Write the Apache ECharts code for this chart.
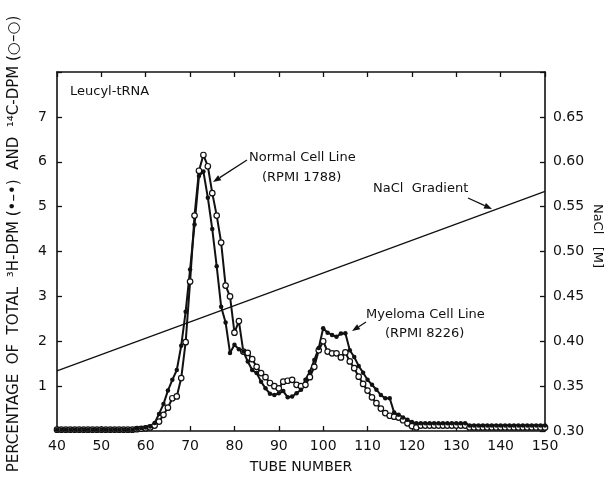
<!DOCTYPE html>
<html>
<head>
<meta charset="utf-8">
<script src="https://cdn.jsdelivr.net/npm/echarts@6/dist/echarts.min.js"></script>
<style>
  html, body { margin: 0; padding: 0; background: #fff; }
  #chart { width: 611px; height: 489px; }
</style>
</head>
<body>
<div id="chart"></div>
<script>
// tube numbers 40..150, one value per tube
var firstTube = 40
var xTicks = [40, 50, 60, 70, 80, 90, 100, 110, 120, 130, 140, 150]
// 14C-DPM, open circles
var c14Dpm = [
  0.03, 0.03, 0.03, 0.03, 0.03, 0.03, 0.03, 0.03, 0.03, 0.03,
  0.03, 0.03, 0.03, 0.03, 0.03, 0.03, 0.03, 0.03,
  0.04, 0.05, 0.06, 0.08, 0.12, 0.21, 0.36, 0.52, 0.73, 0.77,
  1.18, 1.98, 3.33, 4.8, 5.8, 6.15, 5.9, 5.3, 4.8, 4.2,
  3.24, 3.0, 2.19, 2.45, 1.77, 1.74, 1.6, 1.43, 1.29, 1.2,
  1.07, 1.0, 0.95, 1.1, 1.12, 1.14, 1.03, 1.0, 1.03, 1.2,
  1.43, 1.8, 2.0, 1.77, 1.73, 1.73, 1.64, 1.75, 1.55, 1.4,
  1.21, 1.05, 0.9, 0.75, 0.62, 0.5, 0.4, 0.34, 0.32, 0.3,
  0.24, 0.17, 0.11, 0.08,
  0.12, 0.12, 0.12, 0.12, 0.12, 0.12, 0.12, 0.12, 0.12, 0.12, 0.12,
  0.08, 0.08, 0.08, 0.08, 0.08, 0.08, 0.08, 0.08, 0.08, 0.08,
  0.08, 0.08, 0.08, 0.08, 0.08, 0.08, 0.08, 0.08
]
// 3H-DPM, filled circles
var h3Dpm = [
  0.03, 0.03, 0.03, 0.03, 0.03, 0.03, 0.03, 0.03, 0.03, 0.03,
  0.03, 0.03, 0.03, 0.03, 0.03, 0.03, 0.03, 0.03,
  0.05, 0.06, 0.08, 0.1, 0.18, 0.38, 0.6, 0.9, 1.14, 1.36,
  1.9, 2.66, 3.6, 4.6, 5.68, 5.78, 5.2, 4.5, 3.67, 2.77,
  2.42, 1.74, 1.92, 1.82, 1.77, 1.55, 1.36, 1.29, 1.1, 0.95,
  0.83, 0.8, 0.84, 0.89, 0.75, 0.77, 0.84, 0.92, 1.14, 1.32,
  1.58, 1.85, 2.29, 2.19, 2.14, 2.1, 2.17, 2.18, 1.8, 1.65,
  1.45, 1.3, 1.14, 1.03, 0.92, 0.8, 0.73, 0.73, 0.41, 0.36,
  0.3, 0.25, 0.2, 0.17,
  0.17, 0.17, 0.17, 0.17, 0.17, 0.17, 0.17, 0.17, 0.17, 0.17, 0.17,
  0.12, 0.12, 0.12, 0.12, 0.12, 0.12, 0.12, 0.12, 0.12, 0.12,
  0.12, 0.12, 0.12, 0.12, 0.12, 0.12, 0.12, 0.12
]
// NaCl gradient (M), straight line from first to last tube
var gradientTubes = [40, 150]
var gradientNaCl = [0.367, 0.567]

var ink = '#111'
var font = 'DejaVu Sans'

function pairs(values) {
  return values.map(function (v, i) { return [firstTube + i, v] })
}

function arrow(x1, y1, x2, y2) {
  var a = Math.atan2(y2 - y1, x2 - x1)
  var len = 8, w = 3
  var bx = x2 - len * Math.cos(a), by = y2 - len * Math.sin(a)
  return [{
    type: 'line',
    shape: { x1: x1, y1: y1, x2: bx, y2: by },
    style: { stroke: ink, lineWidth: 1.3 }
  }, {
    type: 'polygon',
    shape: { points: [[x2, y2],
      [bx + w * Math.sin(a), by - w * Math.cos(a)],
      [bx - w * Math.sin(a), by + w * Math.cos(a)]] },
    style: { fill: ink }
  }]
}

function label(text, x, y, size, rotation) {
  var el = {
    type: 'text', x: x, y: y,
    style: { text: text, fill: ink, font: (size || 13) + 'px "' + font + '"' }
  }
  if (rotation) {
    el.rotation = rotation
    el.style.align = 'center'
    el.style.verticalAlign = 'middle'
  }
  return el
}

var chart = echarts.init(document.getElementById('chart'))

var axisBase = {
  axisLine: { show: true, lineStyle: { color: ink, width: 1.6 } },
  axisTick: { show: true, inside: true, length: 5, lineStyle: { color: ink, width: 1.3 } },
  splitLine: { show: false },
  axisLabel: { color: ink, fontFamily: font, fontSize: 14 }
}

chart.setOption({
  animation: false,
  backgroundColor: '#fff',
  grid: { left: 57, right: 66, top: 72, bottom: 58 },
  xAxis: [
    Object.assign({}, axisBase, {
      type: 'value', min: 40, max: 150, interval: 10,
      name: 'TUBE NUMBER', nameLocation: 'middle', nameGap: 29,
      nameTextStyle: { color: ink, fontFamily: font, fontSize: 14 },
      axisLabel: {
        color: ink, fontFamily: font, fontSize: 14, margin: 8,
        formatter: function (v) { return xTicks.indexOf(v) >= 0 ? String(v) : '' }
      }
    }),
    Object.assign({}, axisBase, {
      type: 'value', min: 40, max: 150, interval: 10, position: 'top',
      axisLabel: { show: false }
    })
  ],
  yAxis: [
    Object.assign({}, axisBase, {
      type: 'value', min: 0, max: 8, interval: 1,
      axisLabel: {
        color: ink, fontFamily: font, fontSize: 14, margin: 10,
        formatter: function (v) { return (v === 0 || v === 8) ? '' : String(v) }
      }
    }),
    Object.assign({}, axisBase, {
      type: 'value', min: 0.3, max: 0.7, interval: 0.05, position: 'right',
      axisLabel: {
        color: ink, fontFamily: font, fontSize: 14, margin: 8,
        formatter: function (v) { return v > 0.69 ? '' : v.toFixed(2) }
      }
    })
  ],
  series: [
    {
      name: 'NaCl', type: 'line', yAxisIndex: 1, symbol: 'none',
      data: gradientTubes.map(function (t, i) { return [t, gradientNaCl[i]] }),
      lineStyle: { color: ink, width: 1.3 }
    },
    {
      name: '14C-DPM', type: 'line', data: pairs(c14Dpm),
      symbol: 'circle', symbolSize: 5.5, showAllSymbol: true,
      itemStyle: { color: '#fff', borderColor: ink, borderWidth: 1.2 },
      lineStyle: { color: ink, width: 2 }
    },
    {
      name: '3H-DPM', type: 'line', data: pairs(h3Dpm),
      symbol: 'circle', symbolSize: 4.5, showAllSymbol: true,
      itemStyle: { color: ink },
      lineStyle: { color: ink, width: 2 }
    }
  ],
  graphic: [
    label('Leucyl-tRNA', 70, 85, 13),
    label('Normal Cell Line', 249, 151, 13),
    label('(RPMI 1788)', 262, 171, 13),
    label('NaCl  Gradient', 373, 182, 13),
    label('Myeloma Cell Line', 366, 308, 13),
    label('(RPMI 8226)', 385, 327, 13),
    label('NaCl   [M]', 597, 236, 13, -Math.PI / 2),
    label('PERCENTAGE  OF  TOTAL  ³H-DPM (•–•)  AND  ¹⁴C-DPM (○–○)', 14, 244, 15, Math.PI / 2)
  ].concat(arrow(247, 160, 213, 182), arrow(468, 198, 492, 209), arrow(366, 322, 352, 331))
})
</script>
</body>
</html>
